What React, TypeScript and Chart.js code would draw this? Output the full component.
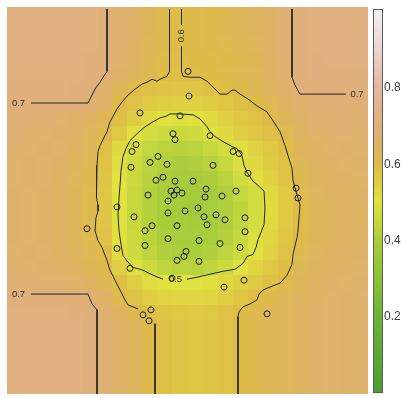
import { useEffect, useRef } from "react";
import { Chart, registerables } from "chart.js";

Chart.register(...registerables);

// ---- data ---------------------------------------------------------------
const X_MAX = 36.1;
const Y_MAX = 39.1;

// fitted surface, rows listed from the top (north) edge down to the bottom edge
const surfaceRows: number[][] = [
  [0.72, 0.72, 0.72, 0.72, 0.72, 0.715, 0.70, 0.68, 0.66, 0.635, 0.61, 0.60, 0.605, 0.61, 0.62, 0.63, 0.645, 0.66, 0.685, 0.705, 0.715, 0.72, 0.72, 0.72],
  [0.72, 0.72, 0.72, 0.72, 0.72, 0.715, 0.70, 0.68, 0.66, 0.635, 0.61, 0.60, 0.605, 0.61, 0.62, 0.63, 0.645, 0.66, 0.685, 0.705, 0.715, 0.72, 0.72, 0.72],
  [0.72, 0.72, 0.72, 0.72, 0.72, 0.715, 0.70, 0.68, 0.655, 0.63, 0.61, 0.60, 0.605, 0.61, 0.615, 0.625, 0.64, 0.66, 0.685, 0.705, 0.715, 0.72, 0.72, 0.72],
  [0.72, 0.72, 0.72, 0.72, 0.715, 0.71, 0.70, 0.675, 0.65, 0.625, 0.605, 0.598, 0.60, 0.605, 0.61, 0.62, 0.635, 0.655, 0.68, 0.705, 0.71, 0.715, 0.715, 0.715],
  [0.715, 0.715, 0.715, 0.715, 0.715, 0.71, 0.695, 0.67, 0.645, 0.62, 0.60, 0.592, 0.595, 0.60, 0.605, 0.615, 0.63, 0.65, 0.675, 0.70, 0.71, 0.71, 0.71, 0.71],
  [0.71, 0.71, 0.71, 0.71, 0.705, 0.70, 0.67, 0.635, 0.605, 0.59, 0.58, 0.575, 0.575, 0.585, 0.595, 0.605, 0.625, 0.645, 0.67, 0.70, 0.705, 0.705, 0.705, 0.705],
  [0.70, 0.70, 0.70, 0.70, 0.695, 0.685, 0.66, 0.61, 0.58, 0.56, 0.55, 0.545, 0.545, 0.555, 0.57, 0.585, 0.60, 0.625, 0.65, 0.675, 0.69, 0.69, 0.695, 0.695],
  [0.69, 0.69, 0.685, 0.68, 0.67, 0.655, 0.63, 0.595, 0.555, 0.52, 0.50, 0.495, 0.50, 0.52, 0.545, 0.565, 0.585, 0.605, 0.635, 0.66, 0.675, 0.68, 0.685, 0.685],
  [0.685, 0.68, 0.675, 0.67, 0.66, 0.64, 0.615, 0.565, 0.505, 0.475, 0.46, 0.455, 0.465, 0.495, 0.525, 0.55, 0.57, 0.59, 0.615, 0.645, 0.665, 0.675, 0.68, 0.68],
  [0.68, 0.675, 0.67, 0.665, 0.65, 0.63, 0.59, 0.525, 0.475, 0.445, 0.43, 0.425, 0.43, 0.45, 0.475, 0.51, 0.54, 0.565, 0.595, 0.635, 0.655, 0.665, 0.67, 0.675],
  [0.675, 0.67, 0.665, 0.66, 0.645, 0.625, 0.58, 0.51, 0.46, 0.43, 0.415, 0.405, 0.41, 0.425, 0.45, 0.49, 0.525, 0.555, 0.585, 0.625, 0.65, 0.66, 0.665, 0.67],
  [0.675, 0.67, 0.665, 0.655, 0.64, 0.62, 0.575, 0.505, 0.455, 0.425, 0.405, 0.395, 0.395, 0.405, 0.43, 0.47, 0.51, 0.545, 0.58, 0.62, 0.645, 0.655, 0.66, 0.665],
  [0.67, 0.665, 0.66, 0.65, 0.635, 0.615, 0.57, 0.50, 0.45, 0.42, 0.40, 0.39, 0.385, 0.395, 0.415, 0.445, 0.475, 0.52, 0.565, 0.615, 0.64, 0.65, 0.655, 0.66],
  [0.67, 0.665, 0.66, 0.65, 0.635, 0.615, 0.575, 0.50, 0.45, 0.42, 0.40, 0.385, 0.38, 0.39, 0.41, 0.435, 0.47, 0.515, 0.56, 0.60, 0.635, 0.645, 0.65, 0.655],
  [0.67, 0.665, 0.66, 0.65, 0.635, 0.615, 0.575, 0.50, 0.45, 0.42, 0.40, 0.39, 0.385, 0.39, 0.41, 0.44, 0.475, 0.52, 0.565, 0.605, 0.635, 0.645, 0.65, 0.655],
  [0.67, 0.665, 0.66, 0.65, 0.635, 0.62, 0.58, 0.505, 0.455, 0.425, 0.405, 0.395, 0.39, 0.40, 0.42, 0.45, 0.49, 0.53, 0.57, 0.61, 0.635, 0.645, 0.65, 0.655],
  [0.675, 0.67, 0.665, 0.655, 0.645, 0.625, 0.60, 0.515, 0.465, 0.435, 0.415, 0.405, 0.405, 0.415, 0.435, 0.465, 0.50, 0.54, 0.58, 0.615, 0.64, 0.65, 0.655, 0.66],
  [0.68, 0.675, 0.67, 0.66, 0.65, 0.635, 0.61, 0.55, 0.495, 0.46, 0.44, 0.43, 0.43, 0.44, 0.46, 0.50, 0.535, 0.565, 0.595, 0.625, 0.645, 0.655, 0.66, 0.665],
  [0.69, 0.685, 0.68, 0.675, 0.665, 0.65, 0.625, 0.595, 0.55, 0.515, 0.505, 0.50, 0.50, 0.51, 0.525, 0.545, 0.565, 0.585, 0.61, 0.635, 0.65, 0.66, 0.665, 0.67],
  [0.705, 0.705, 0.705, 0.705, 0.70, 0.69, 0.655, 0.615, 0.58, 0.55, 0.535, 0.53, 0.53, 0.535, 0.55, 0.57, 0.595, 0.61, 0.63, 0.645, 0.655, 0.665, 0.67, 0.675],
  [0.715, 0.715, 0.715, 0.715, 0.71, 0.705, 0.685, 0.65, 0.62, 0.595, 0.575, 0.565, 0.56, 0.565, 0.58, 0.60, 0.615, 0.63, 0.64, 0.65, 0.66, 0.665, 0.67, 0.675],
  [0.72, 0.72, 0.72, 0.72, 0.715, 0.705, 0.69, 0.665, 0.64, 0.61, 0.59, 0.575, 0.57, 0.575, 0.585, 0.60, 0.615, 0.63, 0.64, 0.65, 0.66, 0.665, 0.67, 0.675],
  [0.72, 0.72, 0.72, 0.72, 0.715, 0.705, 0.69, 0.665, 0.64, 0.61, 0.59, 0.575, 0.57, 0.575, 0.585, 0.60, 0.615, 0.63, 0.64, 0.65, 0.66, 0.665, 0.67, 0.675],
  [0.72, 0.72, 0.72, 0.72, 0.715, 0.705, 0.69, 0.665, 0.64, 0.61, 0.59, 0.575, 0.57, 0.575, 0.585, 0.60, 0.615, 0.63, 0.64, 0.65, 0.66, 0.665, 0.67, 0.675],
  [0.72, 0.72, 0.72, 0.72, 0.715, 0.705, 0.69, 0.665, 0.64, 0.61, 0.59, 0.575, 0.57, 0.575, 0.585, 0.60, 0.615, 0.63, 0.64, 0.65, 0.66, 0.665, 0.67, 0.675],
  [0.72, 0.72, 0.72, 0.72, 0.715, 0.705, 0.69, 0.665, 0.64, 0.61, 0.59, 0.575, 0.57, 0.575, 0.585, 0.60, 0.615, 0.63, 0.64, 0.65, 0.66, 0.665, 0.67, 0.675],
];

// sample locations
const sampleX = [
  18.1, 18.2, 13.3, 17.3, 16.6, 16.8, 20.3, 12.9, 12.5, 22.6, 23.2, 15.1, 14.3, 16.0, 20.6, 12.4, 24.1,
  15.6, 14.9, 16.8, 18.6, 16.4, 17.0, 16.7, 17.5, 19.9, 14.1, 19.8, 22.9, 21.5, 16.1, 11.0, 19.1, 17.8,
  16.1, 12.7, 19.7, 20.9, 21.8, 23.8, 20.0, 14.5, 17.0, 13.8, 23.8, 8.0, 16.1, 19.2, 21.3, 13.8, 11.0,
  23.3, 17.9, 17.7, 17.0, 19.2, 12.3, 16.5, 23.7, 21.7, 28.9, 29.1, 26.0, 14.4, 13.6, 14.2,
];
const sampleY = [
  32.6, 30.1, 28.4, 28.1, 26.3, 25.7, 26.1, 25.2, 24.5, 24.5, 24.3, 24.0, 23.4, 23.2, 23.1, 22.9, 22.3,
  21.9, 21.6, 21.5, 21.5, 20.5, 20.6, 20.1, 20.3, 20.7, 20.1, 19.9, 20.5, 20.0, 19.5, 18.9, 18.8, 18.5,
  18.3, 17.9, 17.9, 18.1, 17.6, 17.8, 17.1, 17.0, 17.0, 16.5, 16.4, 16.7, 15.7, 15.5, 15.2, 15.0, 14.7,
  14.8, 14.4, 13.9, 13.5, 13.4, 12.7, 11.7, 11.5, 10.8, 20.8, 19.8, 8.1, 8.5, 8.0, 7.4,
];

// contour lines (level 0.7, 0.6, 0.5)
const contour07TopLeft = [[10.0, 38.9], [10.0, 32.6], [9.6, 32.0], [9.3, 31.5], [8.8, 30.8], [8.1, 29.4], [2.4, 29.4]];
const contour07TopRight = [[28.5, 38.9], [28.5, 32.0], [28.8, 31.2], [29.3, 30.3], [33.9, 30.3]];
const contour07BottomLeft = [[2.4, 10.1], [8.1, 10.1], [8.5, 9.1], [9.0, 8.5], [9.0, 0]];
const contour06Left = [
  [16.25, 38.9], [16.25, 32.6], [16.0, 32.1], [15.3, 31.8], [15.0, 31.6], [14.5, 31.8], [14.0, 31.5], [13.5, 31.3],
  [12.8, 30.8], [12.0, 30.1], [11.5, 29.5], [11.0, 28.8], [10.3, 27.5], [10.0, 26.5], [9.3, 25.1], [9.1, 24.5],
  [9.0, 23.1], [8.9, 21.8], [9.0, 19.8], [9.1, 19.1], [9.1, 18.5], [8.9, 17.8], [8.8, 16.5], [9.1, 15.5],
  [9.5, 14.8], [10.0, 13.5], [10.3, 12.5], [10.8, 11.5], [11.3, 10.5], [11.8, 9.5], [12.1, 9.0], [13.1, 8.6],
];
const contour06LeftBottom = [[14.8, 7.1], [14.8, 0]];
const contour06RightTop = [[17.45, 38.9], [17.45, 37.3]];
const contour06Right = [
  [17.45, 35.1], [17.45, 32.6], [17.6, 32.1], [18.3, 32.0], [19.3, 32.0], [20.0, 31.6], [20.6, 31.0], [21.3, 30.3],
  [22.0, 30.3], [22.5, 30.7], [22.8, 30.7], [23.3, 30.3], [24.1, 29.8], [25.0, 29.1], [26.0, 28.5], [26.6, 27.6],
  [27.3, 26.5], [27.8, 25.1], [28.1, 24.1], [28.5, 22.8], [28.6, 21.6], [28.8, 20.8], [29.1, 19.8], [29.3, 19.1],
  [29.2, 17.8], [29.1, 16.5], [29.0, 15.8], [28.6, 14.1], [28.5, 13.1], [28.0, 12.0], [27.3, 11.2], [26.5, 10.9],
  [25.6, 10.5], [25.2, 10.1], [25.0, 9.5], [24.3, 9.1], [23.6, 8.8], [23.2, 8.3], [23.1, 7.8], [23.1, 0],
];
const contour05 = [
  [18.0, 11.6], [19.0, 11.8], [20.3, 12.1], [21.6, 12.4], [22.8, 12.6], [23.6, 13.2], [24.0, 13.9], [24.6, 14.1],
  [24.9, 14.8], [25.1, 15.6], [25.7, 17.1], [25.8, 18.8], [25.7, 20.5], [25.3, 20.9], [24.6, 21.5], [24.0, 22.4],
  [23.7, 23.1], [23.5, 24.1], [23.0, 24.8], [22.5, 25.0], [21.6, 25.5], [20.8, 26.0], [20.3, 26.5], [20.0, 27.0],
  [19.3, 27.8], [18.6, 28.2], [17.3, 28.3], [16.3, 28.3], [16.0, 28.1], [15.3, 27.9], [14.6, 27.5], [13.8, 27.0],
  [13.0, 26.3], [12.3, 25.6], [11.9, 24.8], [11.6, 24.0], [11.4, 22.5], [11.3, 21.1], [11.2, 19.8], [11.1, 18.1],
  [11.2, 16.5], [11.4, 15.1], [11.6, 14.0], [12.1, 13.3], [12.6, 12.8], [13.6, 12.5], [14.6, 12.0], [15.6, 11.6],
];
const contourLines = [
  contour07TopLeft, contour07TopRight, contour07BottomLeft,
  contour06Left, contour06LeftBottom, contour06RightTop, contour06Right, contour05,
];

const contourLabelText = ["0.7", "0.7", "0.7", "0.6", "0.5"];
const contourLabelX = [1.15, 35.0, 1.15, 17.42, 16.85];
const contourLabelY = [29.4, 30.3, 10.1, 36.2, 11.6];
const contourLabelAngle = [0, 0, 0, -90, 0];

// colour key
const colorbarTicks = [0.2, 0.4, 0.6, 0.8];
const COLORBAR_MIN = 0;
const COLORBAR_MAX = 1.008;
const colorStopValues = [0.0, 0.1, 0.2, 0.3, 0.4, 0.45, 0.5, 0.55, 0.6, 0.65, 0.7, 0.8, 0.9, 1.0];
const colorStopRGB: number[][] = [
  [74, 160, 50], [90, 168, 52], [110, 178, 54], [140, 192, 56], [170, 205, 60], [198, 216, 62],
  [224, 226, 64], [224, 206, 66], [222, 188, 72], [222, 180, 98], [224, 176, 122], [228, 182, 158],
  [236, 212, 206], [242, 240, 240],
];

const WIDTH = 401;
const HEIGHT = 398;

// ---- helpers ------------------------------------------------------------
function colorFor(v: number): string {
  const n = colorStopValues.length;
  if (v <= colorStopValues[0]) return `rgb(${colorStopRGB[0].join(",")})`;
  if (v >= colorStopValues[n - 1]) return `rgb(${colorStopRGB[n - 1].join(",")})`;
  for (let i = 0; i < n - 1; i++) {
    const a = colorStopValues[i], b = colorStopValues[i + 1];
    if (v >= a && v <= b) {
      const t = (v - a) / (b - a);
      const c = colorStopRGB[i].map((ch, k) => Math.round(ch + (colorStopRGB[i + 1][k] - ch) * t));
      return `rgb(${c.join(",")})`;
    }
  }
  return "#fff";
}

const heatmapPlugin = {
  id: "heatmapCells",
  beforeDatasetsDraw(chart: any) {
    const { ctx } = chart;
    const xs = chart.scales.x;
    const ys = chart.scales.y;
    const ny = surfaceRows.length;
    const nx = surfaceRows[0].length;
    const dx = X_MAX / nx;
    const dy = Y_MAX / ny;
    ctx.save();
    for (let j = 0; j < ny; j++) {
      for (let i = 0; i < nx; i++) {
        const x0 = Math.round(xs.getPixelForValue(i * dx));
        const x1 = Math.round(xs.getPixelForValue((i + 1) * dx));
        const y0 = Math.round(ys.getPixelForValue(Y_MAX - j * dy));
        const y1 = Math.round(ys.getPixelForValue(Y_MAX - (j + 1) * dy));
        ctx.fillStyle = colorFor(surfaceRows[j][i]);
        ctx.fillRect(x0, y0, x1 - x0, y1 - y0);
      }
    }
    ctx.restore();
  },
};

const colorbarPlugin = {
  id: "colorbar",
  afterDraw(chart: any) {
    const { ctx } = chart;
    const cb = chart.scales.cb;
    const left = cb.left + 5;
    const right = cb.left + 15;
    const top = cb.getPixelForValue(COLORBAR_MAX);
    const bottom = cb.getPixelForValue(COLORBAR_MIN);
    const grad = ctx.createLinearGradient(0, bottom, 0, top);
    colorStopValues.forEach((v, i) => {
      const t = (v - COLORBAR_MIN) / (COLORBAR_MAX - COLORBAR_MIN);
      grad.addColorStop(Math.min(1, Math.max(0, t)), `rgb(${colorStopRGB[i].join(",")})`);
    });
    ctx.save();
    ctx.fillStyle = grad;
    ctx.fillRect(left, top, right - left, bottom - top);
    ctx.strokeStyle = "#5a5a5a";
    ctx.lineWidth = 1;
    ctx.strokeRect(left + 0.5, Math.round(top) + 0.5, right - left - 1, Math.round(bottom - top) - 1);
    ctx.restore();
  },
};

const contourLabelPlugin = {
  id: "contourLabels",
  afterDatasetsDraw(chart: any) {
    const { ctx } = chart;
    const xs = chart.scales.x;
    const ys = chart.scales.y;
    ctx.save();
    ctx.font = "9.5px 'Liberation Sans', Arial, sans-serif";
    ctx.fillStyle = "#2e2e2e";
    ctx.textAlign = "center";
    ctx.textBaseline = "middle";
    contourLabelText.forEach((t, i) => {
      ctx.save();
      ctx.translate(xs.getPixelForValue(contourLabelX[i]), ys.getPixelForValue(contourLabelY[i]));
      ctx.rotate((contourLabelAngle[i] * Math.PI) / 180);
      ctx.fillText(t, 0, 0);
      ctx.restore();
    });
    ctx.restore();
  },
};

export default function App() {
  const canvasRef = useRef<HTMLCanvasElement | null>(null);

  useEffect(() => {
    if (!canvasRef.current) return;
    const datasets: any[] = [
      {
        label: "samples",
        data: sampleX.map((x, i) => ({ x, y: sampleY[i] })),
        pointRadius: 3,
        pointHoverRadius: 3,
        pointBorderWidth: 1,
        pointBorderColor: "#1c1c1c",
        pointBackgroundColor: "rgba(0,0,0,0)",
        showLine: false,
        order: 0,
      },
      ...contourLines.map((line, k) => ({
        label: `contour${k}`,
        data: line.map(([x, y]) => ({ x, y })),
        showLine: true,
        pointRadius: 0,
        pointHoverRadius: 0,
        borderColor: "#262626",
        borderWidth: 1,
        tension: 0,
        fill: false,
        order: 1,
      })),
    ];

    const chart = new Chart(canvasRef.current, {
      type: "scatter",
      data: { datasets },
      options: {
        animation: false,
        responsive: false,
        maintainAspectRatio: false,
        devicePixelRatio: 1,
        events: [],
        layout: { padding: { left: 7, top: 7, right: 0, bottom: 0 } },
        plugins: { legend: { display: false }, tooltip: { enabled: false } },
        scales: {
          x: { type: "linear", min: 0, max: X_MAX, display: false },
          y: { type: "linear", min: 0, max: Y_MAX, display: false },
          cb: {
            type: "linear",
            display: true,
            position: "right",
            min: -0.0026,
            max: 1.013,
            grid: { display: false, drawTicks: false },
            border: { display: false },
            ticks: {
              padding: 16,
              color: "#3c3c3c",
              font: { size: 12, family: "'Liberation Sans', Arial, sans-serif" },
              callback: (v: any) => Number(v).toFixed(1),
            },
            afterBuildTicks: (s: any) => {
              s.ticks = colorbarTicks.map((v) => ({ value: v }));
            },
            afterFit: (s: any) => {
              s.width = 33;
              s.paddingTop = 0;
              s.paddingBottom = 0;
            },
          },
        },
      } as any,
      plugins: [heatmapPlugin, colorbarPlugin, contourLabelPlugin],
    });
    return () => chart.destroy();
  }, []);

  return (
    <div style={{ position: "fixed", left: 0, top: 0, width: WIDTH, height: HEIGHT, background: "#fff" }}>
      <canvas ref={canvasRef} width={WIDTH} height={HEIGHT} style={{ display: "block", width: WIDTH, height: HEIGHT }} />
    </div>
  );
}
